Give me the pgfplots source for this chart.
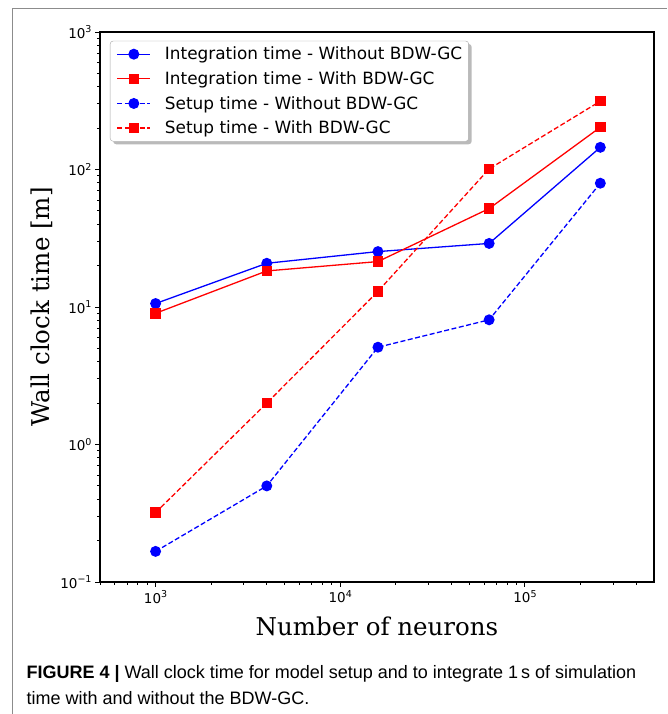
\documentclass[border=0pt]{standalone}
\usepackage{fontspec}
\setmainfont{DejaVu Sans}
\newfontfamily\serif{DejaVu Serif}
\newfontfamily\capfont{Liberation Sans}
\usepackage{pgfplots}
\pgfplotsset{compat=1.18}
\usetikzlibrary{shadows}

% superscript exponent for the tick labels
\newcommand{\ex}[1]{10\raisebox{5.5pt}{\fontsize{9.5}{10}\selectfont #1}}
% stop the legend's drop shadow from reaching its entries
\makeatletter
\tikzset{noshadow/.code={\let\tikz@preactions\pgfutil@empty}}
\makeatother

\begin{document}
\begin{tikzpicture}
\useasboundingbox (0,0) rectangle (667pt,-714pt);
\draw[black!45, line width=1pt] (12pt,-714pt) -- (12pt,-9pt) -- (667pt,-9pt);
\begin{axis}[
  at={(100pt,-582pt)}, anchor=south west,
  scale only axis, width=554pt, height=550pt,
  xmode=log, ymode=log,
  xmin=500, xmax=500000, ymin=0.1, ymax=1000,
  xtick={1000,10000,100000},
  xticklabels={\ex{3},\ex{4},\ex{5}},
  minor xtick={500,600,700,800,900,2000,3000,4000,5000,6000,7000,8000,9000,
    20000,30000,40000,50000,60000,70000,80000,90000,200000,300000,400000},
  ytick={0.1,1,10,100,1000},
  yticklabels={\ex{−1},\ex{0},\ex{1},\ex{2},\ex{3}},
  minor ytick={0.2,0.3,0.4,0.5,0.6,0.7,0.8,0.9,2,3,4,5,6,7,8,9,
    20,30,40,50,60,70,80,90,200,300,400,500,600,700,800,900},
  tick label style={font=\fontsize{13.5}{15}\selectfont},
  tick align=outside, tick pos=left,
  major tick length=5pt, minor tick length=3pt,
  tick style={black, line width=0.9pt},
  axis line style={black, line width=1.1pt},
  legend image code/.code={\draw[noshadow, mark repeat=2,mark phase=2,#1] plot coordinates {(0pt,0pt) (16.5pt,0pt) (33pt,0pt)};},
  legend cell align=left,
  legend style={at={(0.018,0.984)}, anchor=north west,
    draw=black!35, fill=white, rounded corners=3pt,
    drop shadow={shadow xshift=3pt, shadow yshift=-3pt, opacity=0.45, fill=black!60},
    font=\fontsize{16.9}{18}\selectfont,
    inner xsep=6.5pt, inner ysep=6pt, row sep=10.3pt, column sep=14pt,
    nodes={noshadow, inner sep=0pt, sharp corners}},
]
\addplot[blue, line width=1.3pt, mark=*, mark size=4.8pt]
  coordinates {(1000,10.6) (4000,20.8) (16000,25.3) (64000,29) (256000,145)};
\addlegendentry{Integration time - Without BDW-GC}
\addplot[red, line width=1.3pt, mark=square*, mark size=4.6pt]
  coordinates {(1000,9.0) (4000,18.3) (16000,21.4) (64000,52) (256000,203)};
\addlegendentry{Integration time - With BDW-GC}
\addplot[blue, line width=1.3pt, dash pattern=on 5pt off 2.5pt, mark=*, mark size=4.8pt, mark options={solid}]
  coordinates {(1000,0.167) (4000,0.50) (16000,5.1) (64000,8.07) (256000,79.5)};
\addlegendentry{Setup time - Without BDW-GC}
\addplot[red, line width=1.3pt, dash pattern=on 5pt off 2.5pt, mark=square*, mark size=4.6pt, mark options={solid}]
  coordinates {(1000,0.32) (4000,2.0) (16000,13.0) (64000,101) (256000,314)};
\addlegendentry{Setup time - With BDW-GC}
\end{axis}
\node[anchor=base, font=\serif\fontsize{24.5}{26}\selectfont] at (377pt,-635pt) {Number of neurons};
\node[anchor=base, rotate=90, font=\serif\fontsize{24.5}{26}\selectfont] at (49pt,-307pt) {Wall clock time [m]};
\node[anchor=base west, font=\capfont\fontsize{18}{20}\selectfont] at (23pt,-678pt)
  {\textbf{FIGURE 4 |} Wall clock time for model setup and to integrate 1\,s of simulation};
\node[anchor=base west, font=\capfont\fontsize{18}{20}\selectfont] at (23pt,-704pt)
  {time with and without the BDW-GC.};
\end{tikzpicture}
\end{document}
